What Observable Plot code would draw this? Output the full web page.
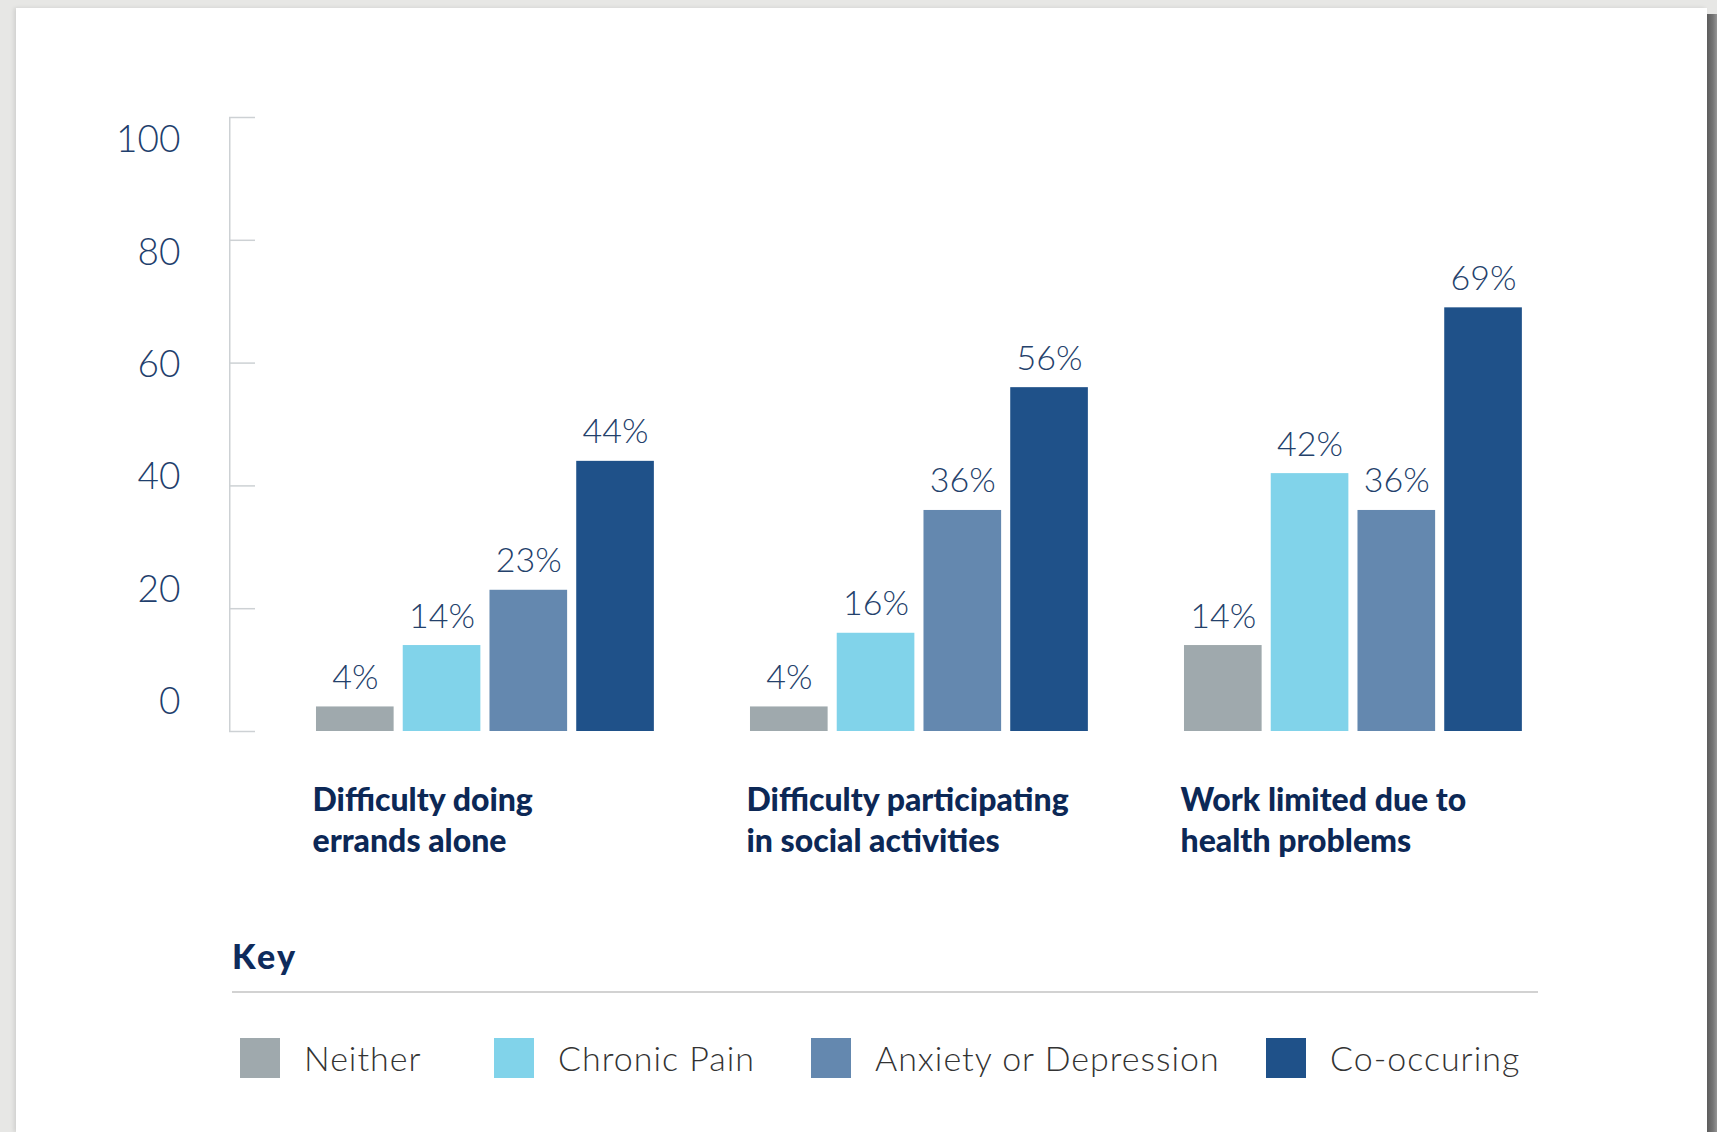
<!DOCTYPE html>
<html><head><meta charset="utf-8">
<script src="https://cdn.jsdelivr.net/npm/d3@7"></script>
<script src="https://cdn.jsdelivr.net/npm/@observablehq/plot@0.6"></script>
<style>
html,body{margin:0;padding:0;}
body{width:1717px;height:1132px;position:relative;overflow:hidden;background:#e7e7e5;font-family:Lato,"Open Sans",sans-serif;}
#card{position:absolute;left:16px;top:8px;width:1691px;height:1124px;background:#fff;box-shadow:-2px 0 4px rgba(0,0,0,0.10);}
#edge{position:absolute;left:1707px;top:14px;width:10px;height:1118px;background:linear-gradient(to right,#5c5c5c,#767676 60%,#959595);}
#chart{position:absolute;left:0;top:0;}
.key{position:absolute;left:232px;top:939px;font-weight:900;font-size:34px;line-height:33px;letter-spacing:2.5px;color:#0e2b5c;}
.rule{position:absolute;left:232px;top:991px;width:1306px;height:2px;background:#d2d2d2;}
.item{position:absolute;top:1038px;display:flex;align-items:center;height:40px;}
.sw{width:40px;height:40px;display:inline-block;}
.lab{margin-left:24px;font-weight:300;font-size:34px;line-height:40px;letter-spacing:1px;color:#333;white-space:nowrap;}
</style></head><body>
<div id="card"></div><div id="edge"></div>
<div id="chart"></div>
<div id="legend"></div>
<script>
const categories = ["Difficulty doing\nerrands alone", "Difficulty participating\nin social activities", "Work limited due to\nhealth problems"];
const series = ["Neither", "Chronic Pain", "Anxiety or Depression", "Co-occuring"];
const colors = ["#9fa9ad", "#81d3ea", "#6488af", "#1f5189"];
const neither = [4, 4, 14];
const chronicPain = [14, 16, 42];
const anxietyDepression = [23, 36, 36];
const coOccuring = [44, 56, 69];
const yTicks = [0, 20, 40, 60, 80, 100];
const keyTitle = "Key";

const seriesValues = [neither, chronicPain, anxietyDepression, coOccuring];
const rows = [];
categories.forEach((c, ci) => series.forEach((s, si) => rows.push({category: c, series: s, value: seriesValues[si][ci]})));

const facetW = 434;
const first = () => categories[0];

const chart = Plot.plot({
  width: 1717, height: 880,
  marginLeft: 229, marginRight: 186, marginTop: 117, marginBottom: 149,
  style: {background: "transparent", overflow: "visible", fontFamily: "Lato, 'Open Sans', sans-serif"},
  fx: {domain: categories, paddingInner: 0, paddingOuter: 0, axis: null},
  x: {domain: series, paddingInner: 0.105, paddingOuter: 0.554, align: 0.905, round: false, axis: null},
  y: {domain: [0, 100], axis: null},
  color: {domain: series, range: colors},
  marks: [
    Plot.rect([0], {fx: first, y1: 0, y2: 100, insetRight: facetW - 1.5, fill: "#cdd1d4"}),
    Plot.ruleY(yTicks, {fx: first, y: d => d, insetRight: facetW - 26, stroke: "#cdd1d4", strokeWidth: 1.5}),
    Plot.text(yTicks, {fx: first, y: d => 4.8 + 0.9145 * d, text: d => String(d), frameAnchor: "left", textAnchor: "end", dx: -49, fontSize: 37, fontWeight: 300, fill: "#1f3f6d"}),
    Plot.barY(rows, {fx: "category", x: "series", y: "value", fill: "series"}),
    Plot.text(rows, {fx: "category", x: "series", y: "value", text: d => d.value + "%", lineAnchor: "bottom", dy: -18, fontSize: 34, fontWeight: 300, fill: "#24416b"}),
    Plot.text(categories, {fx: d => d, text: d => d, frameAnchor: "bottom-left", textAnchor: "start", lineAnchor: "top", dx: 83, dy: 50, lineHeight: 1.28, fontSize: 32, fontWeight: 900, letterSpacing: "2.1px", fill: "#0c2856"})
  ]
});
document.getElementById("chart").appendChild(chart);

const legend = d3.select("#legend");
legend.append("div").attr("class", "key").text(keyTitle);
legend.append("div").attr("class", "rule");
const legendLeft = [240, 494, 811, 1266];
series.forEach((s, i) => {
  const item = legend.append("div").attr("class", "item").style("left", legendLeft[i] + "px");
  item.append("span").attr("class", "sw").style("background", colors[i]);
  item.append("span").attr("class", "lab").text(s);
});
</script>
</body></html>
